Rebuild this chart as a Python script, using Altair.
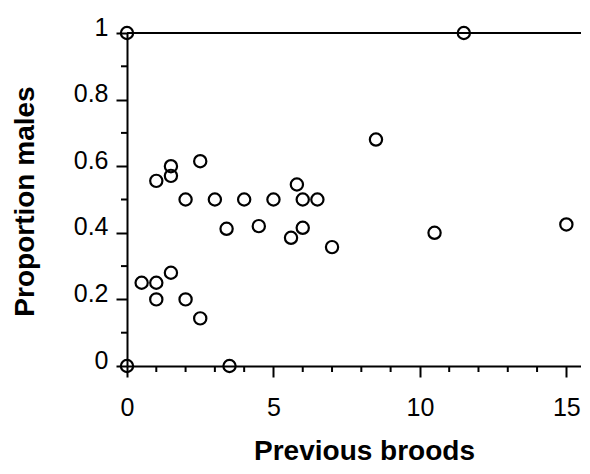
import altair as alt
import pandas as pd

# Data
previous_broods = [0, 1, 1.5, 1.5, 2.5, 2, 3, 4, 5, 3.4, 4.5, 5.6, 11.5, 8.5, 5.8,
                   6, 6.5, 6, 10.5, 15, 7, 0.5, 1, 1, 1.5, 2, 2.5, 0, 3.5]
proportion_males = [1, 0.556, 0.6, 0.571, 0.615, 0.5, 0.5, 0.5, 0.5, 0.412, 0.42, 0.385,
                    1, 0.68, 0.545, 0.5, 0.5, 0.415, 0.4, 0.425, 0.357, 0.25, 0.25, 0.2,
                    0.28, 0.2, 0.143, 0, 0]
x_major = [0, 5, 10, 15]
x_minor = [1, 2, 3, 4, 6, 7, 8, 9, 11, 12, 13, 14]
y_major = [0, 0.2, 0.4, 0.6, 0.8, 1.0]
y_minor = [0.1, 0.3, 0.5, 0.7, 0.9]
X_MAX = 15.5

W, H = 454, 333
df = pd.DataFrame({"broods": previous_broods, "males": proportion_males})
df_xminor = pd.DataFrame({"broods": x_minor})
df_yminor = pd.DataFrame({"males": y_minor})

FONT = "Liberation Sans"

x_axis = alt.Axis(
    values=x_major, tickSize=11,
    tickWidth=2, tickColor="black", domainWidth=2, domainColor="black",
    labelFont=FONT, labelFontSize=25, labelColor="black", labelPadding=18,
    labelOverlap=False, labelFlush=False, grid=False,
    title="Previous broods", titleFont=FONT, titleFontSize=28, titleFontWeight="bold",
    titleColor="black", titleX=237, titleY=93, titleAlign="center",
    titleBaseline="alphabetic",
)

y_axis = alt.Axis(
    values=y_major, format="~g", tickSize=11,
    tickWidth=2, tickColor="black", domainWidth=2, domainColor="black",
    labelFont=FONT, labelFontSize=25, labelColor="black", labelPadding=8, labelOffset=-6,
    labelOverlap=False, labelFlush=False, grid=False,
    title="Proportion males", titleFont=FONT, titleFontSize=28, titleFontWeight="bold",
    titleColor="black", titleX=-94, titleY=168, titleAlign="center",
    titleBaseline="alphabetic", titleAngle=270,
)

x_scale = alt.Scale(domain=[0, X_MAX], nice=False, zero=False)
y_scale = alt.Scale(domain=[0, 1], nice=False)

points = alt.Chart(df).mark_point(
    shape="circle", filled=False, color="black", size=150, strokeWidth=2.2, opacity=1
).encode(
    x=alt.X("broods:Q", scale=x_scale, axis=x_axis),
    y=alt.Y("males:Q", scale=y_scale, axis=y_axis),
)

top_line = alt.Chart(df).mark_rule(color="black", strokeWidth=2).encode(
    x=alt.datum(0, scale=x_scale),
    x2=alt.datum(X_MAX),
    y=alt.datum(1, scale=y_scale),
)

x_minor_ticks = alt.Chart(df_xminor).mark_rule(color="black", strokeWidth=2).encode(
    x=alt.X("broods:Q", scale=x_scale),
    y=alt.value(H),
    y2=alt.value(H + 6),
)

y_minor_ticks = alt.Chart(df_yminor).mark_rule(color="black", strokeWidth=2).encode(
    y=alt.Y("males:Q", scale=y_scale),
    x=alt.value(-6),
    x2=alt.value(0),
)

chart = alt.layer(points, top_line, x_minor_ticks, y_minor_ticks).properties(
    width=W, height=H,
    autosize=alt.AutoSizeParams(type="none"),
    padding={"left": 119, "top": 25, "right": 0, "bottom": 100},
).configure_view(stroke=None).configure(background="white")

chart.save("out.html", embed_options={"renderer": "svg", "actions": False})
